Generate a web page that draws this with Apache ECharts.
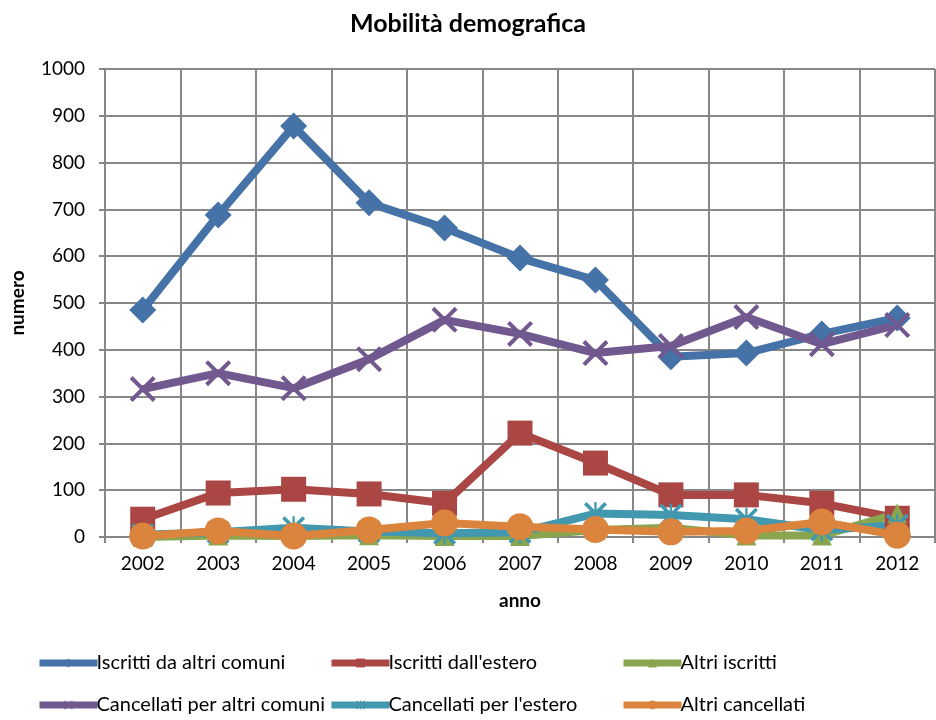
<!DOCTYPE html>
<html>
<head>
<meta charset="utf-8">
<script src="https://cdn.jsdelivr.net/npm/echarts@6/dist/echarts.min.js"></script>
<style>html,body{margin:0;padding:0;background:#fff}#c{width:936px;height:720px}</style>
</head>
<body>
<div id="c"></div>
<script>
const years = ['2002','2003','2004','2005','2006','2007','2008','2009','2010','2011','2012'];
const iscrittiAltriComuni = [485, 688, 878, 714, 660, 596, 549, 385, 393, 434, 468];
const iscrittiEstero = [38, 94, 102, 92, 72, 222, 158, 90, 90, 72, 40];
const altriIscritti = [0, 3, 2, 4, 2, 2, 15, 20, 3, 3, 50];
const cancellatiAltriComuni = [316, 350, 318, 380, 464, 434, 393, 408, 470, 412, 453];
const cancellatiEstero = [5, 10, 20, 12, 8, 10, 50, 47, 38, 15, 25];
const altriCancellati = [2, 13, 2, 15, 30, 22, 16, 11, 13, 32, 4];

const FONT = 'Lato';
const X_PATH = 'path://M0,1.1 L1.1,0 L5,3.9 L8.9,0 L10,1.1 L6.1,5 L10,8.9 L8.9,10 L5,6.1 L1.1,10 L0,8.9 L3.9,5 Z';
const STAR_PATH = 'path://M4.5,0 L5.5,0 L5.5,10 L4.5,10 Z M0,1.1 L1.1,0 L5,3.9 L8.9,0 L10,1.1 L6.1,5 L10,8.9 L8.9,10 L5,6.1 L1.1,10 L0,8.9 L3.9,5 Z';

function mk(name, data, color, symbol, size) {
  return {
    name: name, type: 'line', data: data,
    symbol: symbol, symbolSize: size, showAllSymbol: true,
    lineStyle: { color: color, width: 8 },
    itemStyle: { color: color },
    emphasis: { disabled: true },
    animation: false
  };
}

function lg(name, left, top) {
  return {
    data: [name], left: left, top: top, padding: 0,
    itemWidth: 58, itemHeight: 11, itemGap: 0,
    lineStyle: { width: 7 },
    textStyle: { fontFamily: FONT, fontSize: 20, color: '#000', padding: [0, 0, 0, -6] },
    selectedMode: false
  };
}

const chart = echarts.init(document.getElementById('c'), null, { renderer: 'canvas' });
chart.setOption({
  backgroundColor: '#fff',
  title: {
    text: 'Mobilità demografica', left: 'center', top: 6,
    textStyle: { fontFamily: FONT, fontSize: 25, fontWeight: 'bold', color: '#000' }
  },
  legend: [
    lg('Iscritti da altri comuni', 36, 653),
    lg("Iscritti dall'estero", 328, 653),
    lg('Altri iscritti', 620, 653),
    lg('Cancellati per altri comuni', 36, 695),
    lg("Cancellati per l'estero", 328, 695),
    lg('Altri cancellati', 620, 695)
  ],
  grid: { left: 102, right: 1, top: 69, bottom: 183, containLabel: false },
  xAxis: {
    type: 'category', data: years, boundaryGap: true,
    name: 'anno', nameLocation: 'middle', nameGap: 54,
    nameTextStyle: { fontFamily: FONT, fontSize: 19, fontWeight: 'bold', color: '#000' },
    axisLine: { lineStyle: { color: '#878787', width: 2 } },
    axisTick: { show: true, length: 6, lineStyle: { color: '#878787', width: 2 } },
    axisLabel: { fontFamily: FONT, fontSize: 19, color: '#000', margin: 17 },
    splitLine: { show: true, lineStyle: { color: '#878787', width: 2 } }
  },
  yAxis: {
    type: 'value', min: 0, max: 1000, interval: 100,
    name: 'numero', nameLocation: 'middle', nameGap: 78, nameRotate: 90,
    nameTextStyle: { fontFamily: FONT, fontSize: 19, fontWeight: 'bold', color: '#000' },
    axisLine: { show: true, lineStyle: { color: '#878787', width: 2 } },
    axisTick: { show: true, length: 6, lineStyle: { color: '#878787', width: 2 } },
    axisLabel: { fontFamily: FONT, fontSize: 19, color: '#000', margin: 20, formatter: function (v) { return String(v); } },
    splitLine: { show: true, lineStyle: { color: '#878787', width: 2 } }
  },
  series: [
    mk('Iscritti da altri comuni', iscrittiAltriComuni, '#4572A7', 'diamond', 27),
    mk("Iscritti dall'estero", iscrittiEstero, '#AA4643', 'rect', 25),
    mk('Altri iscritti', altriIscritti, '#89A54E', 'triangle', 20),
    mk('Cancellati per altri comuni', cancellatiAltriComuni, '#71588F', X_PATH, 26),
    mk("Cancellati per l'estero", cancellatiEstero, '#4198AF', STAR_PATH, 23),
    mk('Altri cancellati', altriCancellati, '#DB843D', 'circle', 27)
  ]
});
</script>
</body>
</html>
